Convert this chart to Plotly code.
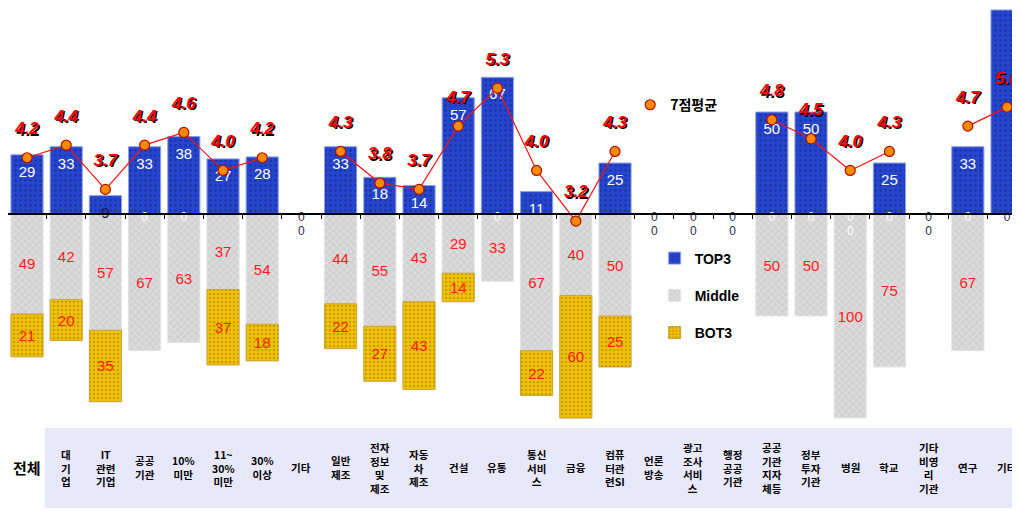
import plotly.graph_objects as go

# ---------------- data ----------------
labels = ["전체", "대<br>기<br>업", "IT<br>관련<br>기업", "공공<br>기관", "10%<br>미만",
          "11~<br>30%<br>미만", "30%<br>이상", "기타", "일반<br>제조", "전자<br>정보<br>및<br>제조",
          "자동<br>차<br>제조", "건설", "유통", "통신<br>서비<br>스", "금융",
          "컴퓨<br>터관<br>련SI", "언론<br>방송", "광고<br>조사<br>서비<br>스", "행정<br>공공<br>기관",
          "공공<br>기관<br>지자<br>체등", "정부<br>투자<br>기관", "병원", "학교",
          "기타<br>비영<br>리<br>기관", "연구", "기타"]
top3 = [29, 33, 9, 33, 38, 27, 28, 0, 33, 18, 14, 57, 67, 11, 0, 25, 0, 0, 0, 50, 50, 0, 25, 0, 33, 100]
middle = [49, 42, 57, 67, 63, 37, 54, 0, 44, 55, 43, 29, 33, 67, 40, 50, 0, 0, 0, 50, 50, 100, 75, 0, 67, 0]
bot3 = [21, 20, 35, 0, 0, 37, 18, 0, 22, 27, 43, 14, 0, 22, 60, 25, 0, 0, 0, 0, 0, 0, 0, 0, 0, 0]
avg7 = [4.2, 4.4, 3.7, 4.4, 4.6, 4.0, 4.2, None, 4.3, 3.8, 3.7, 4.7, 5.3, 4.0, 3.2, 4.3,
        None, None, None, 4.8, 4.5, 4.0, 4.3, None, 4.7, 5.0]

n = len(labels)
xs = list(range(n))

Y1 = [-103.43, 100.98]
Y2 = [-0.022, 6.566]
XR = [-0.485, 25.535]

fig = go.Figure()

fig.add_trace(go.Bar(
    x=xs, y=[v if v else None for v in top3], name="TOP3", legendgroup="a",
    marker=dict(color="#2646d0", line=dict(color="#8fa0e8", width=1),
                pattern=dict(shape=".", fgcolor="#14237a", bgcolor="#2646d0", size=5, solidity=0.25)),
    textposition="none", hoverinfo="skip"))
fig.add_trace(go.Bar(
    x=xs, y=[-v if v else None for v in middle], name="Middle", legendgroup="b",
    text=[str(v) if v else "" for v in middle], textposition="inside", insidetextanchor="middle",
    textangle=0, constraintext="none",
    textfont=dict(color="#ff1a1a", size=15, family="Liberation Sans"),
    marker=dict(color="#d2d2d2", line=dict(color="#e4e4e4", width=1),
                pattern=dict(shape="x", fgcolor="#ffffff", bgcolor="#d2d2d2", size=5, solidity=0.25)),
    hoverinfo="skip"))
fig.add_trace(go.Bar(
    x=xs, y=[-v if v else None for v in bot3], name="BOT3", legendgroup="c",
    text=[str(v) if v else "" for v in bot3], textposition="inside", insidetextanchor="middle",
    textangle=0, constraintext="none",
    textfont=dict(color="#ff1a1a", size=15, family="Liberation Sans"),
    marker=dict(color="#f2c200", line=dict(color="#c8a040", width=1),
                pattern=dict(shape=".", fgcolor="#9a7a00", bgcolor="#f2c200", size=4, solidity=0.3)),
    hoverinfo="skip"))

# TOP3 value labels
sel = [i for i in xs if top3[i] and i != n - 1]
fig.add_trace(go.Scatter(
    x=sel, y=[max(top3[i] - 9, 0) for i in sel], text=[str(top3[i]) for i in sel],
    mode="text", showlegend=False, hoverinfo="skip",
    textfont=dict(color=["#ffffff" if top3[i] > 9 else "#1a1a4a" for i in sel],
                  size=15, family="Liberation Sans")))

# zero labels
zx, zy, zc = [], [], []
for i in xs:
    k = 0
    for v in (top3[i], bot3[i]):
        if v == 0:
            zx.append(i)
            zy.append(-2 - 7 * k)
            zc.append("#ffffff" if middle[i] > 0 else "#2b2b55")
            k += 1
fig.add_trace(go.Scatter(x=zx, y=zy, text=["0"] * len(zx), mode="text", showlegend=False,
                         hoverinfo="skip", textfont=dict(color=zc, size=12, family="Liberation Sans")))

# 7-point average line
fig.add_trace(go.Scatter(x=xs, y=avg7, yaxis="y2", mode="lines", connectgaps=False,
                         line=dict(color="#ff1010", width=1.2), showlegend=False, hoverinfo="skip"))
fig.add_trace(go.Scatter(x=xs, y=avg7, yaxis="y2", mode="markers", name="7점평균", legend="legend2",
                         marker=dict(color="#ff8a00", size=10, line=dict(color="#b01000", width=1.2)),
                         hoverinfo="skip"))
sel2 = [i for i in xs if avg7[i] is not None]
fig.add_trace(go.Scatter(
    x=sel2, y=[avg7[i] + 0.44 for i in sel2], text=[f"{avg7[i]:.1f}" for i in sel2],
    yaxis="y2", mode="text", showlegend=False, hoverinfo="skip",
    textfont=dict(color="#ff0000", size=17, family="Liberation Sans", weight="bold", style="italic",
                  shadow="1.5px 1.5px 0px #000000")))

# table background
shapes = [dict(type="rect", xref="paper", yref="paper", x0=0.0363, x1=1.0, y0=-0.199, y1=-0.0072,
               fillcolor="#e8e8fb", line=dict(width=0), layer="below")]

annotations = []
for i, lab in enumerate(labels):
    annotations.append(dict(
        x=i, xref="x", y=-0.1031, yref="paper", text=f"<b>{lab}</b>", showarrow=False,
        yanchor="middle", xanchor="center",
        font=dict(size=15 if i == 0 else 10.5, color="#000000", family="Noto Sans CJK KR")))

fig.update_layout(
    width=1020, height=511,
    margin=dict(l=0, r=0, t=0, b=94),
    paper_bgcolor="white", plot_bgcolor="white",
    barmode="relative", bargap=0.18,
    showlegend=True,
    xaxis=dict(range=XR, anchor="free", position=(0 - Y1[0]) / (Y1[1] - Y1[0]),
               showline=True, linecolor="#000000", linewidth=1.5, showgrid=False, zeroline=False,
               tickmode="array", tickvals=[i - 0.5 for i in range(n + 1)], ticks="outside",
               ticklen=4, tickcolor="#000000", showticklabels=False),
    yaxis=dict(range=Y1, visible=False, showgrid=False, zeroline=False),
    yaxis2=dict(range=Y2, overlaying="y", visible=False, showgrid=False, zeroline=False),
    legend=dict(x=0.634, y=0.4376, xanchor="left", yanchor="top", traceorder="grouped",
                tracegroupgap=16, bgcolor="rgba(0,0,0,0)",
                font=dict(size=14, color="#000000", family="Liberation Sans", weight="bold")),
    legend2=dict(x=0.610, y=0.767, xanchor="left", yanchor="middle", bgcolor="rgba(0,0,0,0)",
                 font=dict(size=14, color="#000000", family="Noto Sans CJK KR", weight="bold")),
    shapes=shapes, annotations=annotations,
)

fig.write_html("out.html", post_script="document.documentElement.style.overflow='hidden';")
